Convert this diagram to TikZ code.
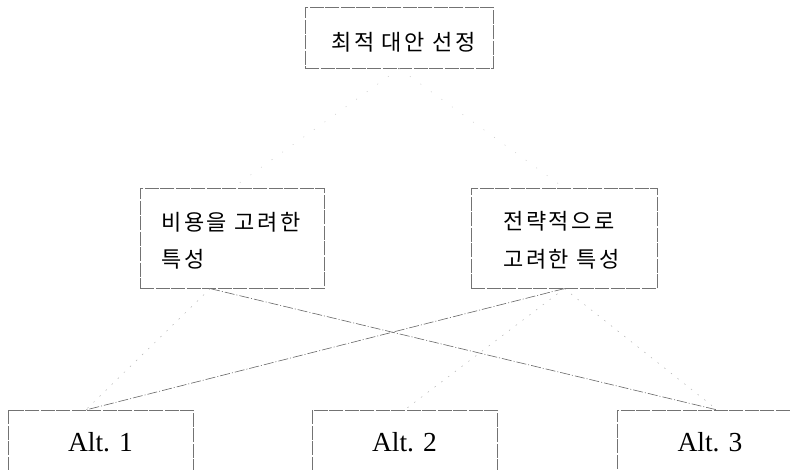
\documentclass[tikz,border=0pt]{standalone}
\usepackage{fontspec}
\newfontfamily\krfont[LetterSpace=12]{Noto Sans CJK KR}
\newfontfamily\altfont{Liberation Serif}
\usetikzlibrary{calc}
\begin{document}
\begin{tikzpicture}[x=1pt,y=-1pt,
  box/.style={draw=black!55, line width=0.6pt, dash pattern=on 14pt off 1.5pt, rectangle, inner sep=0pt},
  kt/.style={font=\krfont\fontsize{22}{26}\selectfont, text=black, inner sep=0pt, anchor=west},
  alt/.style={box, anchor=north, minimum width=185pt, minimum height=64pt, font=\altfont\fontsize{27.5}{30}\selectfont},
  link/.style={draw=black!60, line width=0.6pt, dash pattern=on 10pt off 2pt on 1pt off 2pt},
  faint/.style={draw=black!30, line width=0.5pt, dash pattern=on 1.5pt off 7pt},
  fainter/.style={draw=black!22, line width=0.5pt, dash pattern=on 1pt off 12pt}]
\useasboundingbox (0,0) rectangle (791,469);
\clip (0,0) rectangle (791,469);
% boxes
\node[box, minimum width=188pt, minimum height=61pt, anchor=north west] (top) at (305,7) {};
\node[kt, anchor=center] (toptext) at (403.5,42) {최적 대안 선정};
\node[box, minimum width=184pt, minimum height=100pt, anchor=north west] (L) at (140,188) {};
\node[kt] (l1) at (161,222) {비용을 고려한};
\node[kt] (l2) at (161,259) {특성};
\node[box, minimum width=186pt, minimum height=100pt, anchor=north west] (R) at (471,188) {};
\node[kt] (r1) at (503,221) {전략적으로};
\node[kt] (r2) at (503,259) {고려한 특성};
\node[alt] (A1) at (100.5,410) {Alt. 1};
\node[alt] (A2) at (404.5,410) {Alt. 2};
\node[alt, minimum width=186pt] (A3) at (710,410) {Alt. 3};
% connectors
\coordinate (Lo) at ($(L.south west)!0.38!(L.south east)$);
\coordinate (A1in) at ($(A1.north west)!0.42!(A1.north east)$);
\coordinate (A3in) at ($(A3.north west)!0.54!(A3.north east)$);
\draw[fainter] (top.south) -- (L.north);
\draw[fainter] (top.south) -- (R.north);
\draw[link] (Lo) -- (A3in);
\draw[link] (R.south) -- (A1in);
\draw[faint] (Lo) -- (A1in);
\draw[faint] (R.south) -- (A2.north);
\draw[faint] (R.south) -- (A3in);
\end{tikzpicture}
\end{document}
